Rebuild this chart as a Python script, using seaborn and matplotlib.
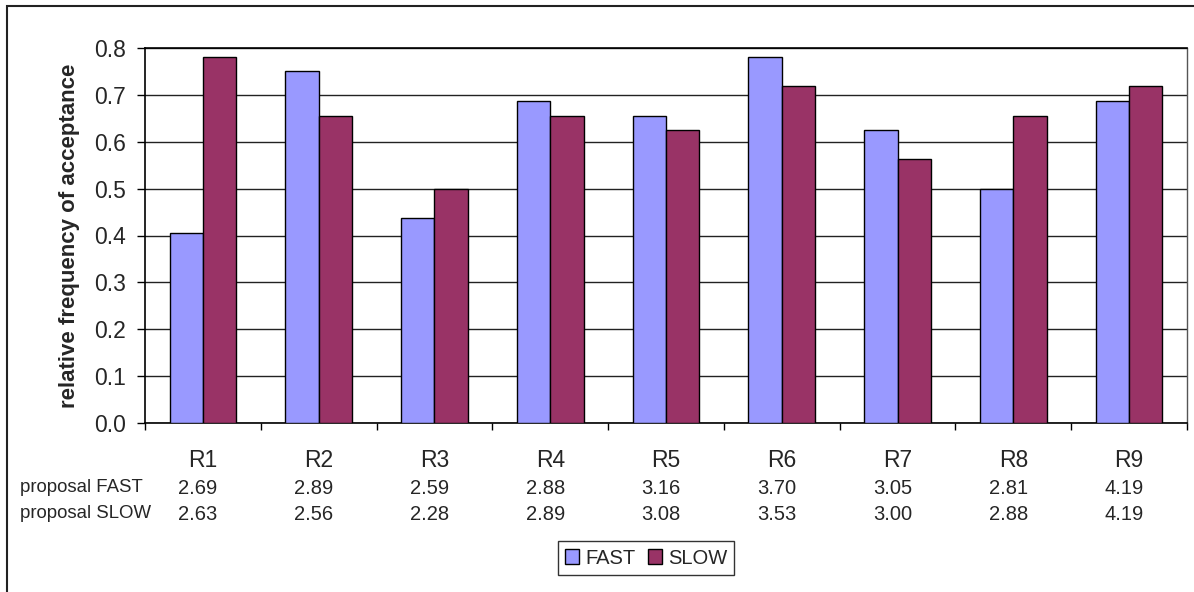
import numpy as np
import pandas as pd
import matplotlib
matplotlib.use("Agg")
import matplotlib.pyplot as plt
import seaborn as sns
from matplotlib.patches import Rectangle, Patch
from matplotlib.ticker import FormatStrFormatter
from matplotlib.transforms import ScaledTranslation

rounds = ["R1", "R2", "R3", "R4", "R5", "R6", "R7", "R8", "R9"]
fast = [0.406, 0.750, 0.438, 0.688, 0.656, 0.781, 0.625, 0.500, 0.688]
slow = [0.781, 0.656, 0.500, 0.656, 0.625, 0.719, 0.563, 0.656, 0.719]
proposal_fast = ["2.69", "2.89", "2.59", "2.88", "3.16", "3.70", "3.05", "2.81", "4.19"]
proposal_slow = ["2.63", "2.56", "2.28", "2.89", "3.08", "3.53", "3.00", "2.88", "4.19"]
series = ["FAST", "SLOW"]
colors = ["#9999FF", "#993366"]

df = pd.DataFrame({
    "round": rounds * 2,
    "value": fast + slow,
    "series": ["FAST"] * len(rounds) + ["SLOW"] * len(rounds),
})

sns.set_theme(style="white")
plt.rcParams["font.family"] = ["Liberation Sans", "DejaVu Sans"]

W, H = 1194, 592
fig = plt.figure(figsize=(W / 100, H / 100), dpi=100)
ax = fig.add_axes([145 / W, 1 - 423 / H, (1187 - 145) / W, (423 - 48) / H])

sns.barplot(data=df, x="round", y="value", hue="series", order=rounds,
            hue_order=series, palette=colors, width=0.576, gap=0,
            edgecolor="black", linewidth=1.0, saturation=1, ax=ax,
            legend=False, zorder=3)

ax.set_xlim(-0.5, len(rounds) - 0.5)
ax.set_ylim(0, 0.8)
ax.set_yticks(np.arange(0, 0.81, 0.1))
ax.yaxis.set_major_formatter(FormatStrFormatter("%.1f"))
ax.grid(axis="y", color="#222222", linewidth=1.0, zorder=0)
ax.set_axisbelow(True)
for s in ["left", "bottom", "top"]:
    ax.spines[s].set_color("black")
    ax.spines[s].set_linewidth(1.2)
ax.spines["right"].set_color("#555555")
ax.spines["right"].set_linewidth(1.0)

ax.tick_params(axis="y", direction="out", length=6, width=1, color="black",
               labelsize=16.5, pad=8, left=True)
ax.tick_params(axis="x", which="major", length=0, labelsize=16.5, pad=19)
ax.set_xticks(np.arange(-0.5, len(rounds), 1.0), minor=True)
ax.tick_params(axis="x", which="minor", direction="out", length=5, width=1,
               color="black", bottom=True)
ax.set_xlabel("")
ax.set_ylabel("relative frequency of acceptance", fontsize=16,
              fontweight="bold")
ax.yaxis.label.set_verticalalignment("center")
ax.yaxis.set_label_coords((70 - 145) / (1187 - 145), 0.5)

# data table rows under the axis
trans = matplotlib.transforms.blended_transform_factory(ax.transData, fig.transFigure)
trans = trans + ScaledTranslation(-5 / 100, 0, fig.dpi_scale_trans)
y1 = 1 - 488 / H
y2 = 1 - 514 / H
for i in range(len(rounds)):
    ax.text(i, y1, proposal_fast[i], transform=trans, ha="center", va="center",
            fontsize=14.5, clip_on=False)
    ax.text(i, y2, proposal_slow[i], transform=trans, ha="center", va="center",
            fontsize=14.5, clip_on=False)
fig.text(20 / W, y1, "proposal FAST", ha="left", va="center", fontsize=13.4)
fig.text(20 / W, y2, "proposal SLOW", ha="left", va="center", fontsize=13.4)

handles = [Patch(facecolor=c, edgecolor="black", linewidth=1.0) for c in colors]
leg = fig.legend(handles, series, loc="center",
                 bbox_to_anchor=(646 / W, 1 - 558 / H), ncol=2,
                 fontsize=14.5, frameon=True, fancybox=False, shadow=False,
                 handlelength=0.7, handleheight=0.7, handletextpad=0.3,
                 columnspacing=0.6, borderpad=0.35, borderaxespad=0)
leg.get_frame().set_edgecolor("black")
leg.get_frame().set_linewidth(1.0)

# outer chart frame
fig.patches.append(Rectangle((7 / W, -0.1), 1.2, 1 - 6 / H + 0.1,
                             transform=fig.transFigure, fill=False,
                             edgecolor="#222222", linewidth=1.5))

fig.savefig("out.png", dpi=100)
